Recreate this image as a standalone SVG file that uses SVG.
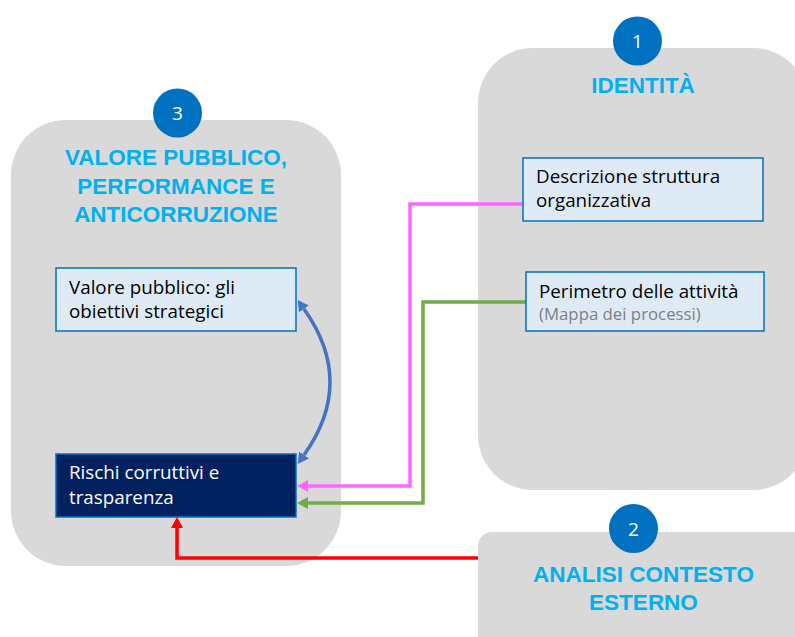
<svg xmlns="http://www.w3.org/2000/svg" width="795" height="637" viewBox="0 0 795 637">
<style>
.cont{fill:#D9D9D9}
.badge{fill:#0070C0}
.num{fill:#FFFFFF;font-family:"Open Sans","Noto Sans",sans-serif;font-size:19px;text-anchor:middle}
.title{fill:#00B0F0;font-family:"Liberation Sans",Arial,sans-serif;font-size:22.5px;font-weight:bold;text-anchor:middle}
.box{fill:#DEEBF7;stroke:#0070C0;stroke-width:1.5}
.dark{fill:#002060;stroke:#0070C0;stroke-width:1.5}
.txt{fill:#000000;font-family:"Open Sans","Noto Sans",sans-serif;font-size:18.8px}
.wtxt{fill:#FFFFFF;font-family:"Open Sans","Noto Sans",sans-serif;font-size:18.8px}
.sub{fill:#7F7F7F;font-size:16.8px}
.conn{fill:none;stroke-width:3.5}
</style>
<defs>
<marker id="aMag" markerUnits="userSpaceOnUse" viewBox="0 0 11 12" refX="0" refY="6" markerWidth="11" markerHeight="12" orient="auto"><path d="M0,0 L11,6 L0,12 z" fill="#FF66FF"/></marker>
<marker id="aGrn" markerUnits="userSpaceOnUse" viewBox="0 0 11 12" refX="0" refY="6" markerWidth="11" markerHeight="12" orient="auto"><path d="M0,0 L11,6 L0,12 z" fill="#70AD47"/></marker>
<marker id="aRed" markerUnits="userSpaceOnUse" viewBox="0 0 11 12" refX="0" refY="6" markerWidth="11" markerHeight="12" orient="auto"><path d="M0,0 L11,6 L0,12 z" fill="#FF0000"/></marker>
<marker id="aBlu" markerUnits="userSpaceOnUse" viewBox="0 0 11 12" refX="0" refY="6" markerWidth="11" markerHeight="12" orient="auto-start-reverse"><path d="M0,0 L11,6 L0,12 z" fill="#4472C4"/></marker>
</defs>

<g id="container-identita">
<rect class="cont" x="478" y="48" width="330" height="442" rx="55" ry="55"/>
<circle class="badge" cx="637.5" cy="41" r="24.5"/>
<text class="num" x="637.5" y="48">1</text>
<text class="title" x="643" y="93">IDENTITÀ</text>
</g>

<g id="container-contesto">
<rect class="cont" x="478" y="532" width="340" height="130" rx="14" ry="14"/>
<circle class="badge" cx="633.5" cy="528.5" r="24.5"/>
<text class="num" x="633.5" y="535.5">2</text>
<text class="title" x="643.5" y="582">ANALISI CONTESTO<tspan x="643.5" dy="28">ESTERNO</tspan></text>
</g>

<g id="container-valore">
<rect class="cont" x="11" y="120" width="330" height="446" rx="55" ry="55"/>
<circle class="badge" cx="177.5" cy="113" r="24.5"/>
<text class="num" x="177.5" y="120">3</text>
<text class="title" x="176" y="165">VALORE PUBBLICO,<tspan x="176" dy="28.5">PERFORMANCE E</tspan><tspan x="176" dy="28.5">ANTICORRUZIONE</tspan></text>
</g>

<g id="connectors">
<path class="conn" stroke="#FF66FF" d="M523,204 H410 V486 H308" marker-end="url(#aMag)"/>
<path class="conn" stroke="#70AD47" d="M526,302 H423 V503 H308" marker-end="url(#aGrn)"/>
<path class="conn" stroke="#FF0000" d="M478,558 H177 V528" marker-end="url(#aRed)"/>
<path class="conn" stroke="#4472C4" d="M304,309 Q356,382 304,455" marker-start="url(#aBlu)" marker-end="url(#aBlu)"/>
</g>

<g id="box-descrizione">
<rect class="box" x="523" y="158" width="240" height="63"/>
<text class="txt" x="536" y="183">Descrizione struttura<tspan x="536" dy="24">organizzativa</tspan></text>
</g>

<g id="box-perimetro">
<rect class="box" x="526" y="272" width="238" height="59"/>
<text class="txt" x="539" y="298">Perimetro delle attività<tspan class="sub" x="539" dy="22">(Mappa dei processi)</tspan></text>
</g>

<g id="box-valore">
<rect class="box" x="56" y="268" width="240" height="63"/>
<text class="txt" x="69" y="294">Valore pubblico: gli<tspan x="69" dy="24">obiettivi strategici</tspan></text>
</g>

<g id="box-rischi">
<rect class="dark" x="56" y="454" width="240" height="63"/>
<text class="wtxt" x="69" y="479">Rischi corruttivi e<tspan x="69" dy="25">trasparenza</tspan></text>
</g>
</svg>
